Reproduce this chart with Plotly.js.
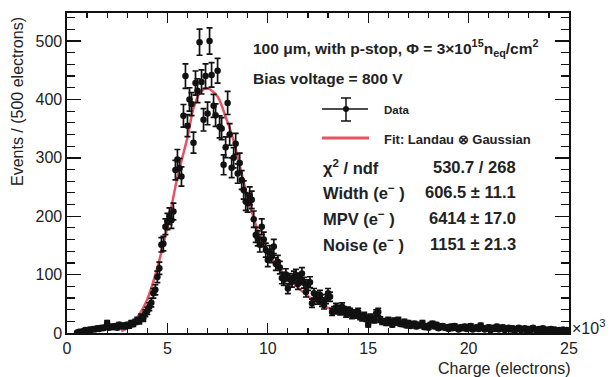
<!DOCTYPE html>
<html><head><meta charset="utf-8">
<script src="https://cdn.plot.ly/plotly-3.0.1.min.js"></script>
<style>html,body{margin:0;padding:0;background:#fff}</style>
</head><body>
<div id="chart" style="width:612px;height:377px"></div>
<script>
// Bin centres (x 10^3 electrons)
const chargeBins = [
 0.5,0.6,0.7,0.8,0.9,
 1.0,1.1,1.2,1.3,1.4,1.5,1.6,1.7,1.8,1.9,
 2.0,2.1,2.2,2.3,2.4,2.5,2.6,2.7,2.8,2.9,
 3.0,3.1,3.2,3.3,3.4,3.5,3.6,3.7,3.8,3.9,
 4.0,4.1,4.2,4.3,4.4,4.5,4.6,4.7,4.8,4.9,
 5.0,5.1,5.2,5.3,5.4,5.5,5.6,5.7,5.8,5.9,
 6.0,6.1,6.2,6.3,6.4,6.5,6.6,6.7,6.8,6.9,
 7.0,7.1,7.2,7.3,7.4,7.5,7.6,7.7,7.8,7.9,
 8.0,8.1,8.2,8.3,8.4,8.5,8.6,8.7,8.8,8.9,
 9.0,9.1,9.2,9.3,9.4,9.5,9.6,9.7,9.8,9.9,
 10.0,10.1,10.2,10.3,10.4,10.5,10.6,10.7,10.8,10.9,
 11.0,11.1,11.2,11.3,11.4,11.5,11.6,11.7,11.8,11.9,
 12.0,12.1,12.2,12.3,12.4,12.5,12.6,12.7,12.8,12.9,
 13.0,13.1,13.2,13.3,13.4,13.5,13.6,13.7,13.8,13.9,
 14.0,14.1,14.2,14.3,14.4,14.5,14.6,14.7,14.8,14.9,
 15.0,15.1,15.2,15.3,15.4,15.5,15.6,15.7,15.8,15.9,
 16.0,16.1,16.2,16.3,16.4,16.5,16.6,16.7,16.8,16.9,
 17.0,17.1,17.2,17.3,17.4,17.5,17.6,17.7,17.8,17.9,
 18.0,18.1,18.2,18.3,18.4,18.5,18.6,18.7,18.8,18.9,
 19.0,19.1,19.2,19.3,19.4,19.5,19.6,19.7,19.8,19.9,
 20.0,20.1,20.2,20.3,20.4,20.5,20.6,20.7,20.8,20.9,
 21.0,21.1,21.2,21.3,21.4,21.5,21.6,21.7,21.8,21.9,
 22.0,22.1,22.2,22.3,22.4,22.5,22.6,22.7,22.8,22.9,
 23.0,23.1,23.2,23.3,23.4,23.5,23.6,23.7,23.8,23.9,
 24.0,24.1,24.2,24.3,24.4,24.5,24.6,24.7,24.8,24.9,25.0
];
// Events per bin
const events = [
 1,2,2,3,5,
 4,6,5,7,6,8,7,9,8,10,
 17,9,11,10,12,9,14,11,13,11,
 14,12,17,15,19,22,20,27,25,34,
 38,45,52,68,74,96,111,151,153,182,
 191,200,193,208,279,297,282,268,372,440,
 355,400,392,326,428,415,498,430,365,440,
 376,500,442,389,373,449,353,350,288,318,
 394,340,283,300,324,273,291,262,245,225,
 222,235,228,195,168,162,151,182,160,142,
 125,138,132,148,118,122,112,94,91,100,
 76,92,88,96,99,84,93,102,86,70,
 82,87,51,68,62,57,65,53,48,58,
 68,62,36,39,44,41,37,45,39,33,
 38,36,30,34,31,36,28,26,30,25,
 14,27,24,22,34,36,23,19,20,17,
 22,19,14,21,18,22,16,15,19,13,
 17,12,15,16,11,14,13,17,10,12,
 9,14,16,11,14,8,11,12,9,10,
 7,11,8,12,9,6,10,8,11,7,
 9,12,6,8,10,7,13,9,6,8,
 10,5,9,7,11,6,8,10,5,7,
 9,6,8,4,7,9,5,6,8,4,
 7,5,9,6,4,7,5,8,3,6,
 5,7,4,6,3,5,4,6,3,5,4
];
// Fit curve (Landau (x) Gaussian)
const fitX = [2.7,3.0,3.5,4.0,4.5,5.0,5.5,6.0,6.3,6.65,7.0,7.5,7.9,8.25,8.65,9.0,9.5,10.0,10.5,11.0,11.5,12.0,12.5,13.0,14.0,15.0,16.0,17.0,18.0,19.0,20.0,22.0,25.0];
const fitY = [3,9,27,58,112,182,267,335,385,413,419,405,370,335,280,232,176,140,114,94,78,63,52,43,31,22,18,15,12,10,9,7,5];

const xTickVals = [0,5,10,15,20,25];
const xTickText = ['0','5','10','15','20','25'];
const yTickVals = [0,100,200,300,400,500];

const statLabels = ['χ<sup>2</sup> / ndf','Width (e<sup>−</sup> )','MPV (e<sup>−</sup> )','Noise (e<sup>−</sup> )'];
const statValues = ['530.7 / 268','606.5 ± 11.1','6414 ± 17.0','1151 ± 21.3'];

const L=67,R=569,T=13,B=333;
const px = v => (v-L)/(R-L);
const py = v => (B-v)/(B-T);
const FONT = 'Liberation Sans, Arial, sans-serif';

const traces = [
 {x: fitX, y: fitY, type:'scatter', mode:'lines', line:{color:'rgb(228,84,98)', width:2.5, shape:'spline', smoothing:0.8}, hoverinfo:'skip'},
 {x: chargeBins, y: events, type:'scatter', mode:'markers',
  marker:{color:'#111', size:6.5},
  error_y:{type:'sqrt', visible:true, color:'#111', thickness:1.7, width:3}}
];

const annotations = [
 {text:'<b>100 μm, with p-stop, Φ = 3×10<sup>15</sup>n<sub>eq</sub>/cm<sup>2</sup></b>', x:px(251), y:py(48), font:{size:15.5}},
 {text:'<b>Bias voltage = 800 V</b>', x:px(251), y:py(78), font:{size:15.5}},
 {text:'<b>Data</b>', x:px(382), y:py(110), font:{size:11.5}},
 {text:'<b>Fit: Landau ⊗ Gaussian</b>', x:px(382), y:py(139), font:{size:13}},
];
const rowY = [167,192,218,244];
statLabels.forEach((s,i)=>{
 annotations.push({text:'<b>'+s+'</b>', x:px(321), y:py(rowY[i]), font:{size:16.5}});
 annotations.push({text:'<b>'+statValues[i]+'</b>', x:px(518), y:py(rowY[i]), xanchor:'right', font:{size:16.5}});
});
annotations.forEach(a=>{a.xref='paper';a.yref='paper';a.showarrow=false;a.xanchor=a.xanchor||'left';a.yanchor='middle';a.font=Object.assign({family:FONT,color:'#222'},a.font);});
annotations.push({text:'Events / (500 electrons)', xref:'paper', yref:'paper', x:px(18), y:py(102), textangle:-90, showarrow:false, font:{family:FONT,size:16,color:'#222'}, xanchor:'center', yanchor:'middle'});
annotations.push({text:'Charge (electrons)', xref:'paper', yref:'paper', x:px(573), y:py(368), showarrow:false, font:{family:FONT,size:16,color:'#222'}, xanchor:'right', yanchor:'middle'});
annotations.push({text:'×10<sup>3</sup>', xref:'paper', yref:'paper', x:px(570), y:py(327), showarrow:false, font:{family:FONT,size:16,color:'#222'}, xanchor:'left', yanchor:'middle'});

const shapes = [
 {type:'line', x0:px(322), x1:px(368), y0:py(109), y1:py(109), line:{color:'#111', width:1.5}},
 {type:'line', x0:px(346), x1:px(346), y0:py(98), y1:py(121), line:{color:'#111', width:1.5}},
 {type:'line', x0:px(341), x1:px(351), y0:py(98), y1:py(98), line:{color:'#111', width:1.5}},
 {type:'line', x0:px(341), x1:px(351), y0:py(121), y1:py(121), line:{color:'#111', width:1.5}},
 {type:'circle', x0:px(343), x1:px(349), y0:py(112), y1:py(106), fillcolor:'#111', line:{color:'#111', width:0}},
 {type:'line', x0:px(322), x1:px(369), y0:py(138), y1:py(138), line:{color:'rgb(228,84,98)', width:3}},
];
shapes.forEach(s=>{s.xref='paper';s.yref='paper';});

const axisCommon = {showgrid:false, zeroline:false, showline:true, linecolor:'#111', linewidth:1.6, mirror:'ticks', ticks:'inside', tickcolor:'#111', tickwidth:1.4, tickfont:{family:FONT,size:16,color:'#222'}};

const layout = {
 width:612, height:377, margin:{l:L, r:612-R, t:T, b:377-B},
 paper_bgcolor:'#fff', plot_bgcolor:'#fff', showlegend:false,
 xaxis: Object.assign({}, axisCommon, {range:[0,25], tickvals:xTickVals, ticktext:xTickText, ticklen:10,
   minor:{ticks:'inside', ticklen:5, dtick:1, tickcolor:'#111', tickwidth:1.2}}),
 yaxis: Object.assign({}, axisCommon, {range:[0,548], tickvals:yTickVals, ticklen:14,
   minor:{ticks:'inside', ticklen:8, dtick:20, tickcolor:'#111', tickwidth:1.2}}),
 annotations, shapes
};
Plotly.newPlot('chart', traces, layout, {staticPlot:true, displayModeBar:false});
</script>
</body></html>
